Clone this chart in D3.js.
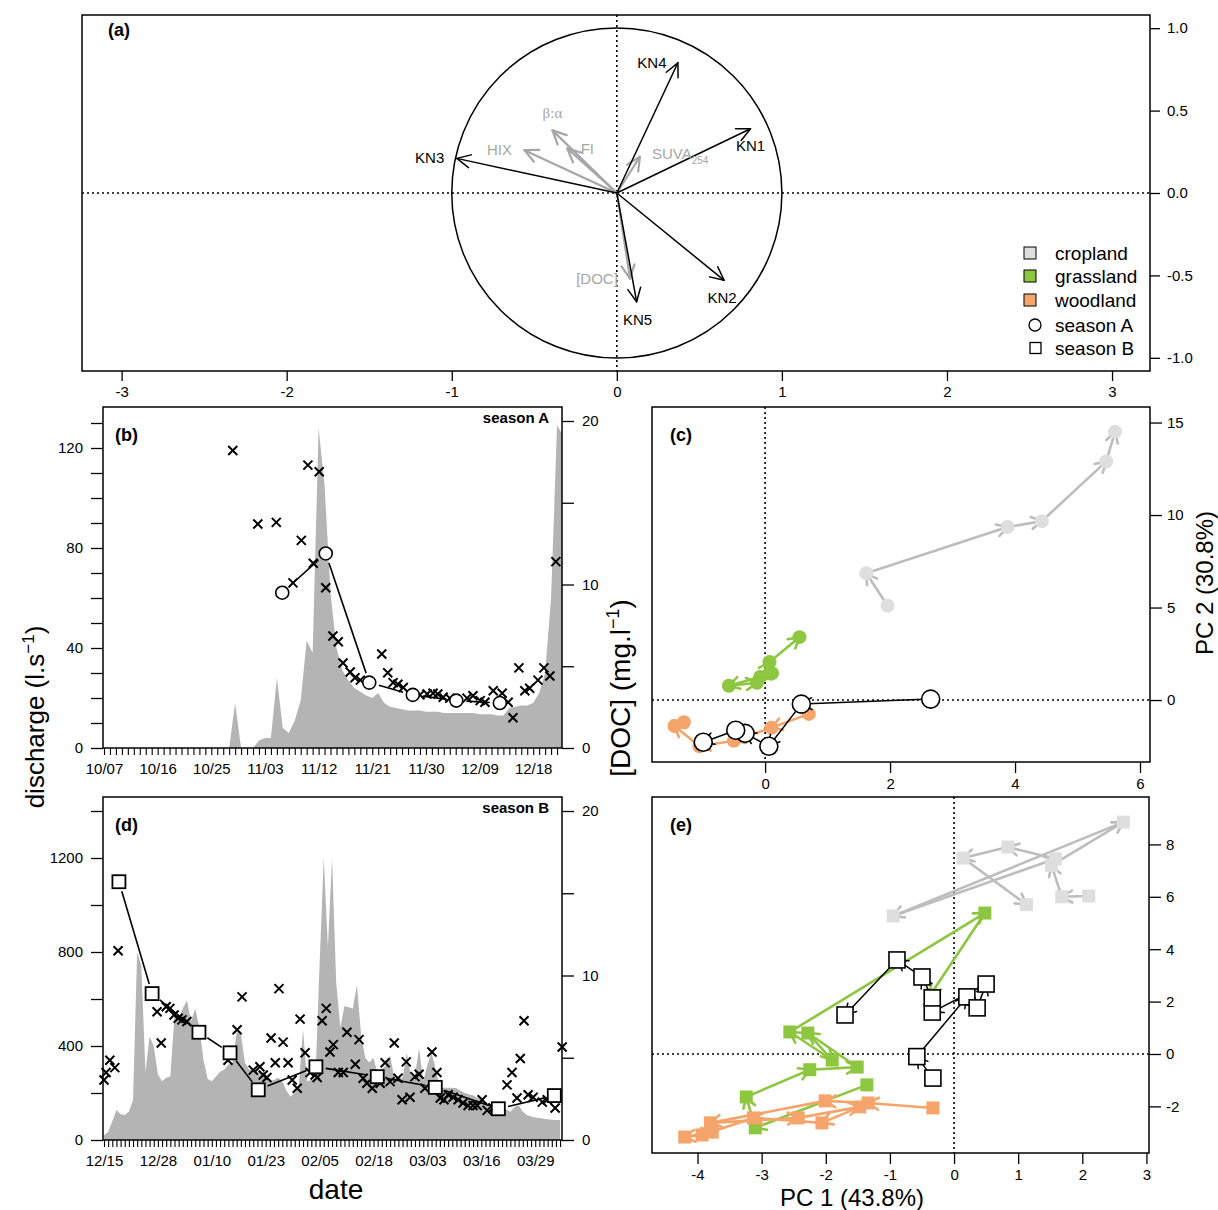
<!DOCTYPE html>
<html>
<head>
<meta charset="utf-8">
<script src="https://cdn.jsdelivr.net/npm/d3@7"></script>
<style>
  html,body{margin:0;padding:0;background:#fff;}
  svg{display:block;}
</style>
</head>
<body>
<svg id="fig" width="1218" height="1210"></svg>
<script>
// ====================== DATA ======================
// Panel (a): PCA loadings
const knNames = ["KN1", "KN2", "KN3", "KN4", "KN5"];
const knPC1 = [0.81, 0.65, -0.97, 0.37, 0.12];
const knPC2 = [0.39, -0.53, 0.21, 0.79, -0.66];
const idxNames = ["HIX", "β:α", "FI", "SUVA", "[DOC]"];
const idxPC1 = [-0.56, -0.39, -0.30, 0.14, 0.08];
const idxPC2 = [0.26, 0.38, 0.27, 0.22, -0.52];
const pcaTicksX = [-3, -2, -1, 0, 1, 2, 3];
const pcaTicksY = [-1, -0.5, 0, 0.5, 1];
const legendLabels = ["cropland", "grassland", "woodland", "season A", "season B"];

// Panel (b): season A (day offsets from 10/07)
const seasonAStart = new Date(2012, 9, 7);
const dischargeA = [0,0,0,0,0,0,0,0,0,0, 0,0,0,0,0,0,0,0,0,0,
  0,0,18,0,0,0,3,4,4,28, 8,6,11,19,43,38,128,105,62,40,
  31,27,24,22.5,21,20,22,18,16.5,16, 15.5,15,15,15,14.5,14.5,14.5,14,14,14,
  14,14,14,13.5,13.5,13.5,13,13,16,16.5, 17,17,18,22,30,60,129,125];
const docDailyADay = [21.6,25.8,28.9,31.7,33.1,34.2,35.1,36.1,37.2,38.4,39.3,40.1,41.3,42.1,43,
  46.6,47.6,48.5,49.3,50.2,53,54.2,55.2,56,56.9,58,60.9,61.9,63.1,63.9,65.3,66.8,67.8,68.6,69.6,
  70.6,71.4,72.8,73.8,74.8,75.8];
const docDailyA = [18.2,13.7,13.8,10.1,12.7,17.3,11.3,16.9,9.8,6.85,6.5,5.2,4.65,4.3,4.15,
  5.75,4.6,4.0,3.9,3.7,3.25,3.3,3.35,3.3,3.1,3.05,3.05,3.2,2.9,2.8,3.5,3.35,2.8,1.85,4.9,
  3.5,3.65,4.15,4.9,4.4,11.4];
const docSampleADay = [29.9, 37.2, 44.5, 51.8, 59.1, 66.4];
const docSampleA = [9.5, 11.9, 4.0, 3.25, 2.9, 2.75];

// Panel (d): season B (day offsets from 12/15)
const seasonBStart = new Date(2012, 11, 15);
const dischargeB = [20,34,80,128,110,106,120,170,800,740, 290,440,400,280,250,265,270,530,520,560,
  595,505,560,480,340,260,250,270,290,300, 320,330,460,450,330,300,300,290,290,270,
  250,255,265,250,210,185,200,235,470,250, 255,265,750,1200,820,1200,670,480,570,565,
  560,660,450,350,330,350,280,300,320,360, 265,265,265,370,280,275,390,250,320,375,
  300,225,222,222,222,220,210,200,195,190, 180,170,162,155,150,145,140,130,120,140,
  148,120,106,100,96,94,90,88,86,85, 85];
const docDailyBDay = [0,0.5,1.4,2.6,3.4,12.8,13.8,15,15.9,16.9,17.9,18.8,20,29.9,32.1,33.3,36,37.6,38.4,39.3,
  40.3,41.3,42.2,43.2,44.4,45.4,46.6,47.3,48.5,49.7,50.9,51.4,52.6,53.6,54.5,55.3,56.5,57.7,58.6,60.6,
  61.5,62.5,63.4,64.7,66.6,67.8,69,70,70.9,71.9,72.9,73.8,75,76,77.4,79.1,80.3,81.1,82,83,
  84.2,85.4,86.6,87.8,89,90,91.2,92.4,93.8,97.2,98.4,99.6,100.4,101.3,102.3,103.5,105.7,106.9,108.8,110.5];
const docDailyB = [3.65,4.1,4.85,4.4,11.5,7.8,5.9,8.1,8.0,7.6,7.4,7.3,7.2,4.85,6.7,8.7,4.25,4.45,3.95,3.8,
  6.2,4.7,9.2,5.95,4.7,3.65,3.15,7.35,5.3,4.1,3.95,3.8,7.25,8.0,5.35,5.8,4.1,4.1,6.55,4.6,
  6.1,3.75,3.45,3.15,3.45,4.7,3.55,5.9,3.75,2.45,4.75,2.6,3.85,4.0,3.15,5.35,4.1,2.55,2.45,2.75,
  2.6,2.45,2.25,2.1,2.1,2.1,2.45,1.8,1.95,3.35,4.1,2.55,4.95,7.25,2.75,2.6,2.3,2.45,1.95,5.65];
const docSampleBDay = [3.6, 11.6, 22.9, 30.4, 37.2, 51.1, 65.9, 79.9, 95.1, 108.6];
const docSampleB = [15.7, 8.9, 6.55, 5.3, 3.05, 4.45, 3.85, 3.2, 1.9, 2.7];

// Panel (c): season A PCA scores (trajectories)
const cropA_PC1 = [1.96, 1.62, 3.88, 4.43, 5.46, 5.6];
const cropA_PC2 = [5.1, 6.85, 9.35, 9.67, 12.9, 14.5];
const grassA_PC1 = [0.11, -0.08, -0.58, -0.13, 0.07, 0.55];
const grassA_PC2 = [1.45, 1.25, 0.77, 0.93, 2.05, 3.4];
const woodA_PC1 = [0.7, 0.1, -0.5, -1.05, -1.45, -1.3];
const woodA_PC2 = [-0.75, -1.5, -2.2, -2.5, -1.4, -1.2];
const meanA_PC1 = [2.65, 0.58, 0.06, -0.32, -0.47, -0.99];
const meanA_PC2 = [0.05, -0.22, -2.5, -1.8, -1.63, -2.28];

// Panel (e): season B PCA scores (trajectories)
const cropB_PC1 = [2.1, 1.68, 1.52, 2.64, -0.95, 1.58, 0.84, 0.14, 1.13];
const cropB_PC2 = [6.03, 6.0, 7.2, 8.85, 5.27, 7.45, 7.9, 7.48, 5.7];
const grassB_PC1 = [-1.36, -3.1, -3.24, -2.25, -1.51, -2.28, -1.9, -2.56, 0.48, -0.37];
const grassB_PC2 = [-1.18, -2.82, -1.64, -0.6, -0.5, 0.8, -0.23, 0.84, 5.38, 2.25];
const woodB_PC1 = [-0.33, -1.34, -2.01, -3.8, -2.43, -1.47, -2.06, -3.13, -3.93, -4.2, -3.77];
const woodB_PC2 = [-2.06, -1.87, -1.79, -2.63, -2.44, -2.02, -2.63, -2.44, -3.09, -3.17, -2.98];
const meanB_PC1 = [-0.33, -0.58, 0.2, 0.36, 0.5, -0.34, -0.34, -0.5, -0.89, -1.7];
const meanB_PC2 = [-0.92, -0.1, 2.18, 1.76, 2.67, 1.6, 2.14, 2.94, 3.59, 1.49];

const pcCTicksX = [0, 2, 4, 6];
const pcCTicksY = [0, 5, 10, 15];
const pcETicksX = [-4, -3, -2, -1, 0, 1, 2, 3];
const pcETicksY = [-2, 0, 2, 4, 6, 8];

// ====================== DRAWING ======================
const FONT = "'Liberation Sans', Arial, Helvetica, sans-serif";
const svg = d3.select("#fig");
const AREA_GRAY = "#b4b4b4";
const COLORS = {
  crop: {pt: "#dedede", ln: "#bdbdbd"},
  grass: {pt: "#8dc63f", ln: "#8dc63f"},
  wood: {pt: "#f5a56b", ln: "#f5a56b"}
};
const TICK_FS = 15;
const hy = d => String(d).replace("\u2212", "-");

function box(x0, y0, x1, y1) {
  svg.append("rect").attr("x", x0).attr("y", y0).attr("width", x1 - x0).attr("height", y1 - y0)
    .attr("fill", "none").attr("stroke", "#000").attr("stroke-width", 1.5);
}
function styleAxis(g) {
  g.attr("font-family", null).attr("font-size", null);
  g.select(".domain").remove();
  g.selectAll(".tick line").attr("stroke", "#000").attr("stroke-width", 1.3);
  g.selectAll(".tick text").attr("font-family", FONT).attr("font-size", TICK_FS).attr("fill", "#000");
}
function head(g, x1, y1, x2, y2, len, ang, color, w) {
  const a = Math.atan2(y2 - y1, x2 - x1);
  const p1 = [x2 - len * Math.cos(a - ang), y2 - len * Math.sin(a - ang)];
  const p2 = [x2 - len * Math.cos(a + ang), y2 - len * Math.sin(a + ang)];
  g.append("path").attr("d", `M${p1[0]},${p1[1]}L${x2},${y2}L${p2[0]},${p2[1]}`)
    .attr("fill", "none").attr("stroke", color).attr("stroke-width", w)
    .attr("stroke-linecap", "round").attr("stroke-linejoin", "round");
}
function arrow(g, x1, y1, x2, y2, len, ang, color, w) {
  g.append("line").attr("x1", x1).attr("y1", y1).attr("x2", x2).attr("y2", y2)
    .attr("stroke", color).attr("stroke-width", w).attr("stroke-linecap", "round");
  head(g, x1, y1, x2, y2, len, ang, color, w);
}
function dotted(g, x1, y1, x2, y2) {
  g.append("line").attr("x1", x1).attr("y1", y1).attr("x2", x2).attr("y2", y2)
    .attr("stroke", "#000").attr("stroke-width", 1.6).attr("stroke-dasharray", "2,3");
}
function label(txt, x, y, opts = {}) {
  return svg.append("text").attr("x", x).attr("y", y).attr("font-family", opts.family || FONT)
    .attr("font-size", opts.size || 15).attr("font-weight", opts.weight || "normal")
    .attr("fill", opts.fill || "#000").attr("text-anchor", opts.anchor || "start").text(txt);
}

// ---------- Panel (a) ----------
(function () {
  const x = d3.scaleLinear().domain([-3.24, 3.23]).range([82, 1150]);
  const y = d3.scaleLinear().domain([-1.08, 1.08]).range([371, 15]);
  const g = svg.append("g");
  dotted(g, 82, y(0), 1150, y(0));
  dotted(g, x(0), 15, x(0), 371);
  g.append("circle").attr("cx", x(0)).attr("cy", y(0)).attr("r", x(1) - x(0))
    .attr("fill", "none").attr("stroke", "#000").attr("stroke-width", 1.5);
  const gray = "#a6a6a6";
  idxPC1.forEach((v, i) => arrow(g, x(0), y(0), x(v), y(idxPC2[i]), 15, Math.PI / 7, gray, 2.2));
  knPC1.forEach((v, i) => arrow(g, x(0), y(0), x(v), y(knPC2[i]), 15, Math.PI / 7, "#000", 1.5));
  // labels (offsets from arrow tips, in px)
  const knOff = [[0, 17], [-2, 18], [-27, 0], [-26, 0], [1, 18]];
  knNames.forEach((n, i) => {
    label(n, x(knPC1[i]) + knOff[i][0], y(knPC2[i]) + knOff[i][1] + 5, {anchor: "middle", size: 15});
  });
  const idxOff = [[-25, 0], [0, -17], [20, 0], [0, 0], [-33, 0]];
  idxNames.forEach((n, i) => {
    if (n === "SUVA") {
      const t = label("", x(idxPC1[i]) + 12, y(idxPC2[i]) + 2, {size: 15, fill: gray});
      t.append("tspan").text("SUVA");
      t.append("tspan").attr("font-size", 10).attr("dy", 5).text("254");
    } else {
      label(n, x(idxPC1[i]) + idxOff[i][0], y(idxPC2[i]) + idxOff[i][1] + 5,
        {anchor: "middle", size: 15, fill: gray, family: n === "β:α" ? "'Liberation Serif', 'DejaVu Serif', serif" : FONT});
    }
  });
  // axes
  const ax = g.append("g").attr("transform", "translate(0,371)")
    .call(d3.axisBottom(x).tickValues(pcaTicksX).tickSize(10).tickPadding(5).tickFormat(d => hy(d)));
  styleAxis(ax);
  const ay = g.append("g").attr("transform", "translate(1150,0)")
    .call(d3.axisRight(y).tickValues(pcaTicksY).tickSize(10).tickPadding(7).tickFormat(d => hy(d3.format(".1f")(d))));
  styleAxis(ay);
  box(82, 15, 1150, 371);
  label("(a)", 108, 36, {size: 18, weight: "bold"});
  // legend
  const lx = 1030, ly = [253, 276, 300, 325, 348];
  const fills = [COLORS.crop.pt, COLORS.grass.pt, COLORS.wood.pt];
  fills.forEach((f, i) => {
    g.append("rect").attr("x", lx - 6).attr("y", ly[i] - 6).attr("width", 12).attr("height", 12)
      .attr("fill", f).attr("stroke", "#000").attr("stroke-width", 1);
  });
  g.append("circle").attr("cx", lx + 5).attr("cy", ly[3]).attr("r", 6)
    .attr("fill", "none").attr("stroke", "#000").attr("stroke-width", 1.3);
  g.append("rect").attr("x", lx).attr("y", ly[4] - 5.5).attr("width", 11).attr("height", 11)
    .attr("fill", "none").attr("stroke", "#000").attr("stroke-width", 1.3);
  legendLabels.forEach((l, i) => label(l, 1055, ly[i] + 7, {size: 19}));
})();

// ---------- time-series panels (b), (d) ----------
function seriesPanel(cfg) {
  const {x0, x1, y0, y1, dayMax, start, qMax, qTicks, qLabelEvery, Q, xDay, xDoc, sDay, sDoc, labelEvery, lastTick, marker, tag, season} = cfg;
  const x = d3.scaleLinear().domain([0, dayMax]).range([104, x1 + 1]);
  const yQ = d3.scaleLinear().domain([0, qMax]).range([y1, cfg.qTop]);
  const yD = d3.scaleLinear().domain([0, 20]).range([y1, cfg.dTop]);
  const g = svg.append("g");
  const clipId = "clip" + tag;
  svg.append("clipPath").attr("id", clipId).append("rect")
    .attr("x", x0).attr("y", y0).attr("width", x1 - x0).attr("height", y1 - y0);
  const area = d3.area().x((d, i) => x(i)).y0(yQ(0)).y1(d => yQ(d));
  g.append("path").datum(Q).attr("d", area).attr("fill", AREA_GRAY).attr("clip-path", `url(#${clipId})`);
  // daily X marks
  g.selectAll(".xm").data(xDay).enter().append("path")
    .attr("transform", (d, i) => `translate(${x(d)},${yD(xDoc[i])})`)
    .attr("d", "M-4.5,-4.5L4.5,4.5M-4.5,4.5L4.5,-4.5")
    .attr("stroke", "#000").attr("stroke-width", 2).attr("fill", "none");
  // connecting line with gaps (type "b")
  const pts = sDay.map((d, i) => [x(d), yD(sDoc[i])]);
  for (let i = 0; i < pts.length - 1; i++) {
    const [ax, ay] = pts[i], [bx, by] = pts[i + 1];
    const L = Math.hypot(bx - ax, by - ay), gap = 10;
    if (L > 2 * gap) {
      const ux = (bx - ax) / L, uy = (by - ay) / L;
      g.append("line").attr("x1", ax + ux * gap).attr("y1", ay + uy * gap)
        .attr("x2", bx - ux * gap).attr("y2", by - uy * gap)
        .attr("stroke", "#000").attr("stroke-width", 1.6);
    }
  }
  pts.forEach(p => {
    if (marker === "circle") {
      g.append("circle").attr("cx", p[0]).attr("cy", p[1]).attr("r", 6.5)
        .attr("fill", "#fff").attr("stroke", "#000").attr("stroke-width", 1.6);
    } else {
      g.append("rect").attr("x", p[0] - 6.5).attr("y", p[1] - 6.5).attr("width", 13).attr("height", 13)
        .attr("fill", "#fff").attr("stroke", "#000").attr("stroke-width", 1.8);
    }
  });
  // axes
  const fmt = d3.timeFormat("%m/%d");
  const ax = g.append("g").attr("transform", `translate(0,${y1})`)
    .call(d3.axisBottom(x).tickValues(d3.range(0, lastTick + 1)).tickSize(7).tickPadding(8)
      .tickFormat(d => d % labelEvery === 0 ? fmt(d3.timeDay.offset(start, d)) : ""));
  styleAxis(ax);
  ax.selectAll(".tick line").attr("stroke-width", 1.1);
  const ayl = g.append("g").attr("transform", `translate(${x0},0)`)
    .call(d3.axisLeft(yQ).tickValues(qTicks).tickSize(12).tickPadding(8)
      .tickFormat(d => d % qLabelEvery === 0 ? d : ""));
  styleAxis(ayl);
  const ayr = g.append("g").attr("transform", `translate(${x1},0)`)
    .call(d3.axisRight(yD).tickValues([0, 5, 10, 15, 20]).tickSize(12).tickPadding(8)
      .tickFormat(d => d % 10 === 0 ? d : ""));
  styleAxis(ayr);
  box(x0, y0, x1, y1);
  label(`(${tag})`, 115, y0 + 34, {size: 18, weight: "bold"});
  label(season, 549, y0 + 16, {size: 15, weight: "bold", anchor: "end"});
}

seriesPanel({x0: 103, x1: 562, y0: 407, y1: 748, dayMax: 77, start: seasonAStart,
  qMax: 130, qTop: 423, dTop: 421, qTicks: d3.range(0, 131, 10), qLabelEvery: 40,
  Q: dischargeA, xDay: docDailyADay, xDoc: docDailyA, sDay: docSampleADay, sDoc: docSampleA,
  labelEvery: 9, lastTick: 76, marker: "circle", tag: "b", season: "season A"});

seriesPanel({x0: 103, x1: 562, y0: 797, y1: 1140, dayMax: 110.7, start: seasonBStart,
  qMax: 1400, qTop: 811, dTop: 811, qTicks: d3.range(0, 1401, 200), qLabelEvery: 400,
  Q: dischargeB, xDay: docDailyBDay, xDoc: docDailyB, sDay: docSampleBDay, sDoc: docSampleB,
  labelEvery: 13, lastTick: 110, marker: "square", tag: "d", season: "season B"});

// ---------- PCA score panels (c), (e) ----------
function pcaPanel(cfg) {
  const {x0, x1, y0, y1, xd, yd, xt, yt, tag, marker, series, mean} = cfg;
  const x = d3.scaleLinear().domain(xd).range([x0, x1]);
  const y = d3.scaleLinear().domain(yd).range([y1, y0]);
  const g = svg.append("g");
  dotted(g, x0, y(0), x1, y(0));
  dotted(g, x(0), y0, x(0), y1);
  function traj(xs, ys, lc, lw, hl, drawPt) {
    const pts = xs.map((v, i) => [x(v), y(ys[i])]);
    for (let i = 0; i < pts.length - 1; i++) {
      arrow(g, pts[i][0], pts[i][1], pts[i + 1][0], pts[i + 1][1], hl, Math.PI / 6, lc, lw);
    }
    pts.forEach(drawPt);
  }
  series.forEach(s => {
    traj(s.x, s.y, s.c.ln, 2.6, 12, p => {
      if (marker === "circle") {
        g.append("circle").attr("cx", p[0]).attr("cy", p[1]).attr("r", 7).attr("fill", s.c.pt);
      } else {
        g.append("rect").attr("x", p[0] - 6.5).attr("y", p[1] - 6.5).attr("width", 13).attr("height", 13).attr("fill", s.c.pt);
      }
    });
  });
  traj(mean.x, mean.y, "#000", 1.5, 12, p => {
    if (marker === "circle") {
      g.append("circle").attr("cx", p[0]).attr("cy", p[1]).attr("r", 9)
        .attr("fill", "#fff").attr("stroke", "#000").attr("stroke-width", 1.6);
    } else {
      g.append("rect").attr("x", p[0] - 8).attr("y", p[1] - 8).attr("width", 16).attr("height", 16)
        .attr("fill", "#fff").attr("stroke", "#000").attr("stroke-width", 1.6);
    }
  });
  const ax = g.append("g").attr("transform", `translate(0,${y1})`)
    .call(d3.axisBottom(x).tickValues(xt).tickSize(11).tickPadding(5).tickFormat(d => hy(d)));
  styleAxis(ax);
  const ay = g.append("g").attr("transform", `translate(${x1},0)`)
    .call(d3.axisRight(y).tickValues(yt).tickSize(12).tickPadding(5).tickFormat(d => hy(d)));
  styleAxis(ay);
  box(x0, y0, x1, y1);
  label(`(${tag})`, 670, y0 + 34, {size: 18, weight: "bold"});
}

pcaPanel({x0: 652, x1: 1150, y0: 407, y1: 762, xd: [-1.81, 6.16], yd: [-3.35, 15.84],
  xt: pcCTicksX, yt: pcCTicksY, tag: "c", marker: "circle",
  series: [{x: cropA_PC1, y: cropA_PC2, c: COLORS.crop}, {x: grassA_PC1, y: grassA_PC2, c: COLORS.grass},
           {x: woodA_PC1, y: woodA_PC2, c: COLORS.wood}],
  mean: {x: meanA_PC1, y: meanA_PC2}});

pcaPanel({x0: 652, x1: 1149, y0: 797, y1: 1153, xd: [-4.71, 3.04], yd: [-3.78, 9.81],
  xt: pcETicksX, yt: pcETicksY, tag: "e", marker: "square",
  series: [{x: cropB_PC1, y: cropB_PC2, c: COLORS.crop}, {x: grassB_PC1, y: grassB_PC2, c: COLORS.grass},
           {x: woodB_PC1, y: woodB_PC2, c: COLORS.wood}],
  mean: {x: meanB_PC1, y: meanB_PC2}});

// ---------- axis titles ----------
(function () {
  const t1 = svg.append("text").attr("transform", "translate(44,717) rotate(-90)")
    .attr("text-anchor", "middle").attr("font-family", FONT).attr("font-size", 26);
  t1.append("tspan").text("discharge (l.s");
  t1.append("tspan").attr("font-size", 17).attr("dy", -10).text("\u22121");
  t1.append("tspan").attr("dy", 10).text(")");
  const t2 = svg.append("text").attr("transform", "translate(630,688) rotate(-90)")
    .attr("text-anchor", "middle").attr("font-family", FONT).attr("font-size", 28);
  t2.append("tspan").text("[DOC] (mg.l");
  t2.append("tspan").attr("font-size", 18).attr("dy", -11).text("\u22121");
  t2.append("tspan").attr("dy", 11).text(")");
  svg.append("text").attr("transform", "translate(1213,583) rotate(-90)")
    .attr("text-anchor", "middle").attr("font-family", FONT).attr("font-size", 24).text("PC 2 (30.8%)");
  label("date", 336, 1199, {size: 28, anchor: "middle"});
  label("PC 1 (43.8%)", 852, 1206, {size: 24, anchor: "middle"});
})();
</script>
</body>
</html>
